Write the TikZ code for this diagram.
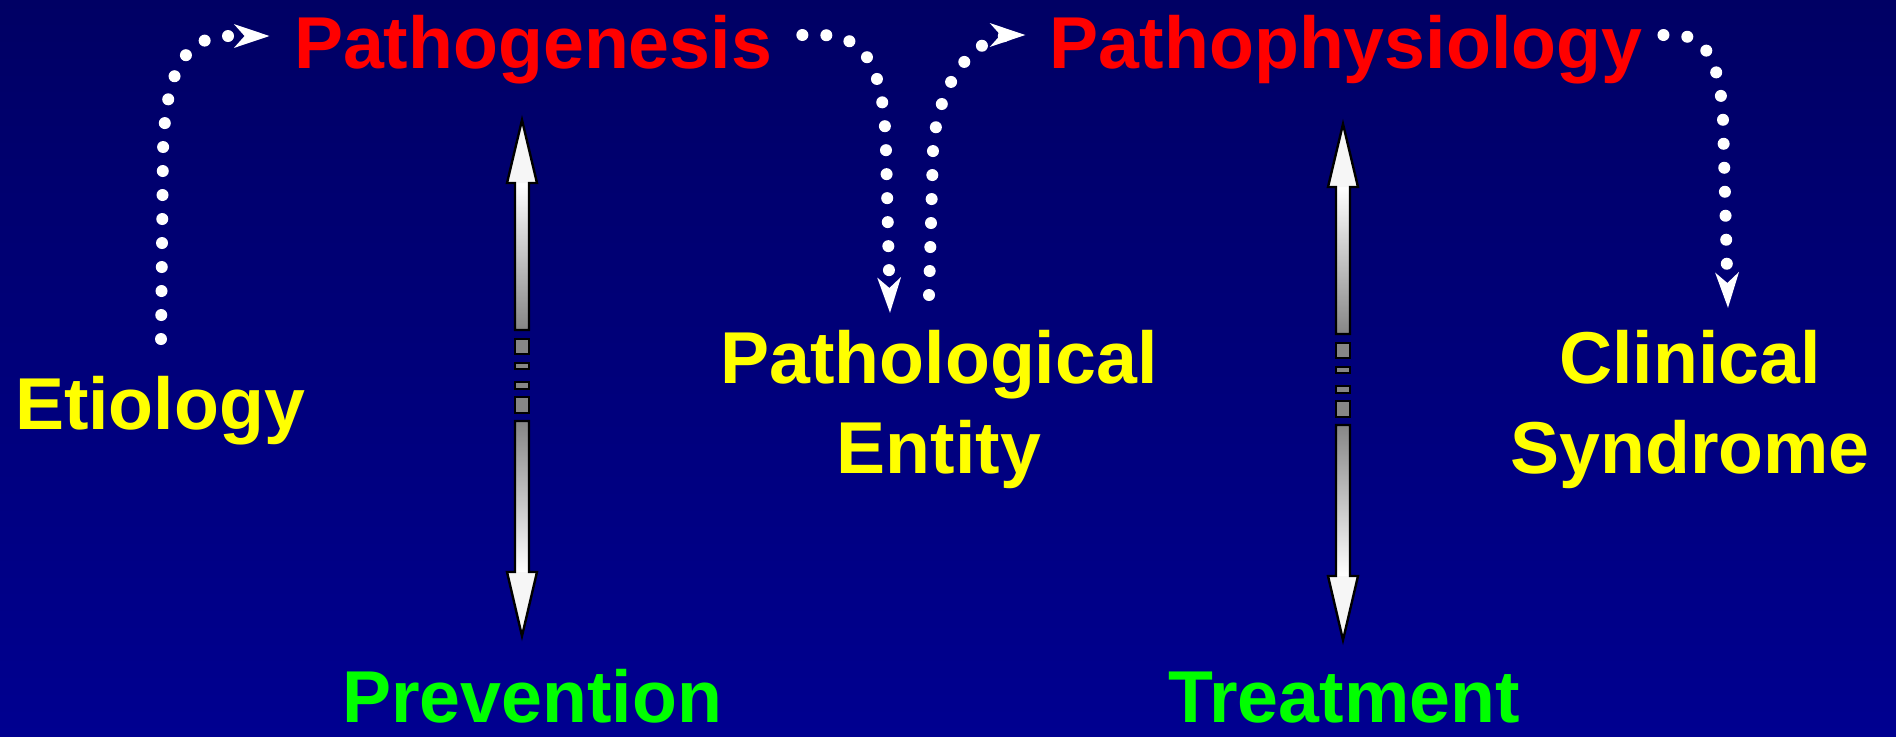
\documentclass[tikz,border=0pt]{standalone}
\usepackage{fontspec}
\setmainfont{Liberation Sans}
\usetikzlibrary{arrows.meta,calc}
\definecolor{cBgTop}{HTML}{000064}
\definecolor{cBgBot}{HTML}{000090}
\definecolor{cRed}{HTML}{FF0000}
\definecolor{cYellow}{HTML}{FFFF00}
\definecolor{cGreen}{HTML}{00FF00}
\definecolor{cShaft}{HTML}{868686}
\definecolor{cHead}{HTML}{F6F6F6}

\begin{document}
\begin{tikzpicture}[x=0.5pt,y=-0.5pt,
      font=\fontsize{36.75}{45}\selectfont\bfseries,
      lbl/.style={inner sep=0pt,anchor=base},
      lbl2/.style={inner sep=0pt,anchor=north,align=center,text=cYellow},
      dotarr/.style={white,line width=6pt,line cap=round,dash pattern=on 0pt off 12pt,
        -{Stealth[length=17.5pt,width=11.5pt,inset=5pt]}},
      tube/.style={draw=black,line width=1.2pt,line join=miter}]
    \useasboundingbox (0,0) rectangle (1896,736);
    \shade[top color=cBgTop,bottom color=cBgBot] (0,0) rectangle (1896,736);

    % labels
    \node[lbl,text=cYellow] (etio) at (160,429) {Etiology};
    \node[lbl,text=cRed] (pgen) at (533,68) {Pathogenesis};
    \node[lbl,text=cRed] (pphys) at (1346,68) {Pathophysiology};
    \node[lbl2] (pent) at (939,330) {Pathological\\Entity};
    \node[lbl2] (csyn) at (1690,330) {Clinical\\Syndrome};
    \node[lbl,text=cGreen] (prev) at (532,722) {Prevention};
    \node[lbl,text=cGreen] (treat) at (1344,722) {Treatment};

    % dotted connectors
    \draw[dotarr] ([shift={(1,-90)}]etio.base) -- (163,150)
      .. controls (166,70) and (185,36) .. (229,36) -- ([shift={(-24,-32)}]pgen.base west);
    \draw[dotarr] ([shift={(30,-33)}]pgen.base east) -- (820,35)
      .. controls (865,35) and (884,65) .. (886,150) -- ([shift={(-49,-17)}]pent.north);
    \draw[dotarr] ([shift={(-10,-35)}]pent.north) -- (933,150)
      .. controls (938,80) and (975,35) .. (1015,35) -- ([shift={(-24,-33)}]pphys.base west);
    \draw[dotarr] ([shift={(21,-33)}]pphys.base east) -- (1675,35)
      .. controls (1705,35) and (1720,60) .. (1723,120) -- ([shift={(38,-22)}]csyn.north);

    % broken double arrows
    \foreach \x/\dy in {522/0,1343/4}{
      \begin{scope}[shift={(\x,\dy)}]
        \shade[top color=white,bottom color=cShaft] (-7,183) rectangle (7,330);
        \shade[top color=cShaft,bottom color=white] (-7,421) rectangle (7,572);
        \fill[cHead] (0,120) -- (15,183) -- (-15,183) -- cycle;
        \fill[cHead] (0,636) -- (15,572) -- (-15,572) -- cycle;
        \draw[tube] (0,120) -- (15,183) -- (7,183) -- (7,330) -- (-7,330) -- (-7,183) -- (-15,183) -- cycle;
        \draw[tube] (0,636) -- (15,572) -- (7,572) -- (7,421) -- (-7,421) -- (-7,572) -- (-15,572) -- cycle;
        \foreach \a/\b in {339/354,363/369,382/389,397/413}
          \draw[tube,fill=cShaft] (-7,\a) rectangle (7,\b);
      \end{scope}}
  \end{tikzpicture}
\end{document}
